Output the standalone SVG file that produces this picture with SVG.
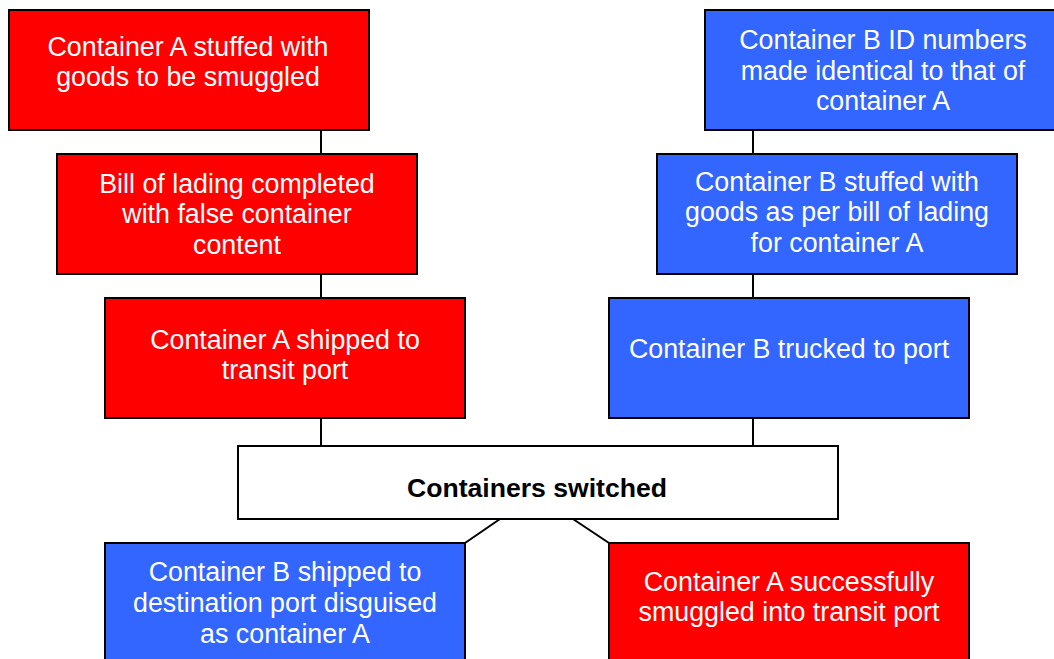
<svg xmlns="http://www.w3.org/2000/svg" width="1054" height="659" viewBox="0 0 1054 659">
  <style>
    .box { stroke: #000; stroke-width: 2; }
    .red { fill: #FF0000; }
    .blue { fill: #3366FF; }
    .white { fill: #FFFFFF; }
    .lbl { font-family: "Liberation Sans", Arial, sans-serif; font-size: 26.8px; fill: #FFFFFF; text-anchor: middle; }
    .bold { font-family: "Liberation Sans", Arial, sans-serif; font-size: 26.6px; font-weight: bold; fill: #000; text-anchor: middle; }
    .wire { stroke: #000; stroke-width: 2; fill: none; }
  </style>
  <rect width="1054" height="659" fill="#FFFFFF"/>

  <!-- connectors -->
  <g id="connectors">
    <line class="wire" x1="321" y1="130" x2="321" y2="154"/>
    <line class="wire" x1="321" y1="274" x2="321" y2="298"/>
    <line class="wire" x1="321" y1="418" x2="321" y2="446"/>
    <line class="wire" x1="753" y1="130" x2="753" y2="154"/>
    <line class="wire" x1="753" y1="274" x2="753" y2="298"/>
    <line class="wire" x1="753" y1="418" x2="753" y2="446"/>
    <line class="wire" x1="500" y1="519" x2="465" y2="543"/>
    <line class="wire" x1="573" y1="519" x2="609" y2="543"/>
  </g>

  <!-- left chain: container A -->
  <g id="a-stuffed">
    <rect class="box red" x="9" y="10" width="360" height="120"/>
    <text class="lbl" x="188" y="56">Container A stuffed with</text>
    <text class="lbl" x="188" y="86">goods to be smuggled</text>
  </g>
  <g id="a-bill">
    <rect class="box red" x="57" y="154" width="360" height="120"/>
    <text class="lbl" x="237" y="193">Bill of lading completed</text>
    <text class="lbl" x="237" y="223">with false container</text>
    <text class="lbl" x="237" y="254">content</text>
  </g>
  <g id="a-shipped">
    <rect class="box red" x="105" y="298" width="360" height="120"/>
    <text class="lbl" x="285" y="349">Container A shipped to</text>
    <text class="lbl" x="285" y="379">transit port</text>
  </g>

  <!-- right chain: container B -->
  <g id="b-ids">
    <rect class="box blue" x="705" y="10" width="360" height="120"/>
    <text class="lbl" x="883" y="49">Container B ID numbers</text>
    <text class="lbl" x="883" y="80">made identical to that of</text>
    <text class="lbl" x="883" y="110">container A</text>
  </g>
  <g id="b-stuffed">
    <rect class="box blue" x="657" y="154" width="360" height="120"/>
    <text class="lbl" x="837" y="191">Container B stuffed with</text>
    <text class="lbl" x="837" y="221">goods as per bill of lading</text>
    <text class="lbl" x="837" y="252">for container A</text>
  </g>
  <g id="b-trucked">
    <rect class="box blue" x="609" y="298" width="360" height="120"/>
    <text class="lbl" x="789" y="358">Container B trucked to port</text>
  </g>

  <!-- switch -->
  <g id="switched">
    <rect class="box white" x="238" y="446" width="600" height="73"/>
    <text class="bold" x="537" y="497">Containers switched</text>
  </g>

  <!-- outcomes -->
  <g id="b-destination">
    <rect class="box blue" x="105" y="543" width="360" height="120"/>
    <text class="lbl" x="285" y="581">Container B shipped to</text>
    <text class="lbl" x="285" y="612">destination port disguised</text>
    <text class="lbl" x="285" y="643">as container A</text>
  </g>
  <g id="a-smuggled">
    <rect class="box red" x="609" y="543" width="360" height="120"/>
    <text class="lbl" x="789" y="591">Container A successfully</text>
    <text class="lbl" x="789" y="621">smuggled into transit port</text>
  </g>
</svg>
